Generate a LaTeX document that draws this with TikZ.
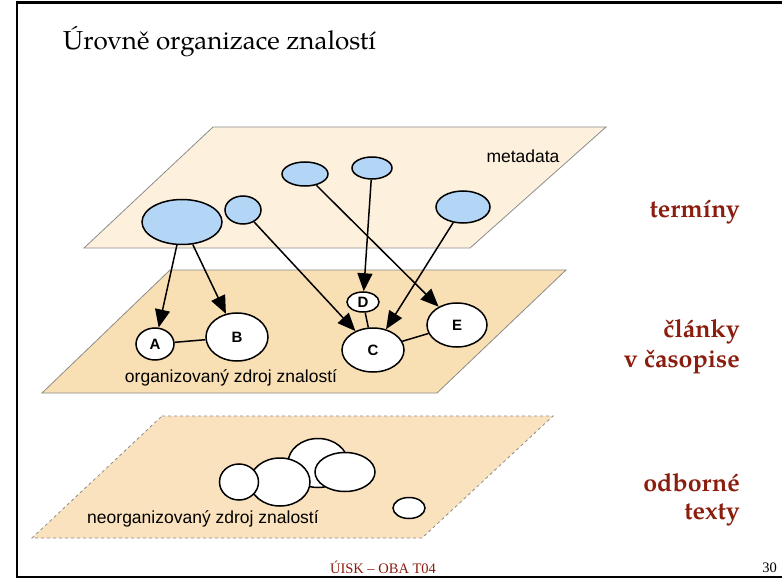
\documentclass[tikz,border=0pt]{standalone}
\usepackage{fontspec}
\setmainfont{TeX Gyre Pagella}
\newfontfamily\arialf{Liberation Sans}
\newfontfamily\timesf{Liberation Serif}
\usetikzlibrary{arrows.meta,shapes.geometric}
\definecolor{planeA}{HTML}{FDF1DE}
\definecolor{planeB}{HTML}{F9DFB4}
\definecolor{planeC}{HTML}{FAE2BE}
\definecolor{termblue}{HTML}{B4D6F6}
\definecolor{darkred}{HTML}{8B1D0F}
\definecolor{edgegrey}{HTML}{8C8C8C}
\begin{document}
\begin{tikzpicture}[x=1pt,y=-1pt,
  planeedge/.style={draw=edgegrey, line width=0.8pt},
  ell/.style={ellipse, draw=black, line width=1.5pt, inner sep=0pt},
  term/.style={ell, fill=termblue},
  doc/.style={ell, fill=white, font=\arialf\bfseries\fontsize{15}{15}\selectfont},
  blob/.style={ell, fill=white},
  arr/.style={line width=1.5pt, -{Triangle[length=18pt,width=15pt]}},
  lnk/.style={line width=1.5pt},
  sidelabel/.style={anchor=base east, text=darkred, inner sep=0pt, font=\bfseries\fontsize{25}{25}\selectfont},
  planelabel/.style={inner sep=0pt, font=\arialf\fontsize{17.5}{17.5}\selectfont}
]
\useasboundingbox (0,0) rectangle (782,580);
\fill[white] (0,0) rectangle (782,580);
\draw[line width=2.5pt] (782,2.5) -- (17,2.5) -- (17,577) -- (782,577);

% title
\node[anchor=base west, inner sep=0pt, font=\fontsize{26}{26}\selectfont] (title) at (63,50) {Úrovně organizace znalostí};

% planes
\draw[planeedge, fill=planeA] (213,127) -- (606,127) -- (470,248) -- (84,248) -- cycle;
\draw[planeedge, fill=planeB] (170,270) -- (566,270) -- (437,393) -- (42,393) -- cycle;
\draw[planeedge, dashed, fill=planeC] (162,416) -- (553,416) -- (422,538) -- (32,538) -- cycle;

% plane labels
\node[planelabel] (lmeta) at (523,156) {metadata};
\node[planelabel] (lorg) at (231,378) {organizovaný zdroj znalostí};
\node[planelabel] (lneorg) at (203,519) {neorganizovaný zdroj znalostí};

% terms
\node[term, minimum width=80pt, minimum height=45pt] (t1) at (182,222) {};
\node[term, minimum width=36pt, minimum height=28pt] (t2) at (243,210) {};
\node[term, minimum width=46pt, minimum height=24pt] (t3) at (305,174) {};
\node[term, minimum width=40pt, minimum height=22pt] (t4) at (372,168) {};
\node[term, minimum width=54pt, minimum height=32pt] (t5) at (463,207) {};

% documents
\node[doc, minimum width=38pt, minimum height=32pt] (A) at (155,344) {A};
\node[doc, minimum width=62pt, minimum height=48pt] (B) at (237,337) {B};
\node[doc, minimum width=32pt, minimum height=20pt] (D) at (363,302) {D};
\node[doc, minimum width=62pt, minimum height=44pt] (C) at (373,350) {C};
\node[doc, minimum width=60pt, minimum height=44pt] (E) at (457,325) {E};

% links
\draw[lnk] (A) -- (B);
\draw[lnk] (D) -- (C);
\draw[lnk] (C) -- (E);

% arrows
\draw[arr] (t1) -- (A);
\draw[arr] (t1) -- (B);
\draw[arr] (t2) -- (C);
\draw[arr] (t3) -- (E);
\draw[arr] (t4) -- (D);
\draw[arr] (t5) -- (C);

% unorganized blobs
\node[blob, minimum width=60pt, minimum height=49pt] (b3) at (318,463) {};
\node[blob, minimum width=60pt, minimum height=48pt] (b2) at (280,482) {};
\node[blob, minimum width=39pt, minimum height=36pt] (b1) at (239,482) {};
\node[blob, minimum width=60pt, minimum height=39pt] (b4) at (345,472) {};
\node[blob, minimum width=32pt, minimum height=21pt] (b5) at (409,508) {};

% side labels
\node[sidelabel] (s1) at (740,218) {termíny};
\node[sidelabel] (s2a) at (740,337) {články};
\node[sidelabel] (s2b) at (740,367) {v časopise};
\node[sidelabel] (s3a) at (740,491) {odborné};
\node[sidelabel] (s3b) at (740,519) {texty};

% footer
\node[anchor=base, inner sep=0pt, text=darkred, font=\timesf\fontsize{14.5}{14.5}\selectfont] (foot) at (383,573) {ÚISK – OBA T04};
\node[anchor=base east, inner sep=0pt, font=\timesf\fontsize{14.5}{14.5}\selectfont] (page) at (777,572) {30};
\end{tikzpicture}
\end{document}
